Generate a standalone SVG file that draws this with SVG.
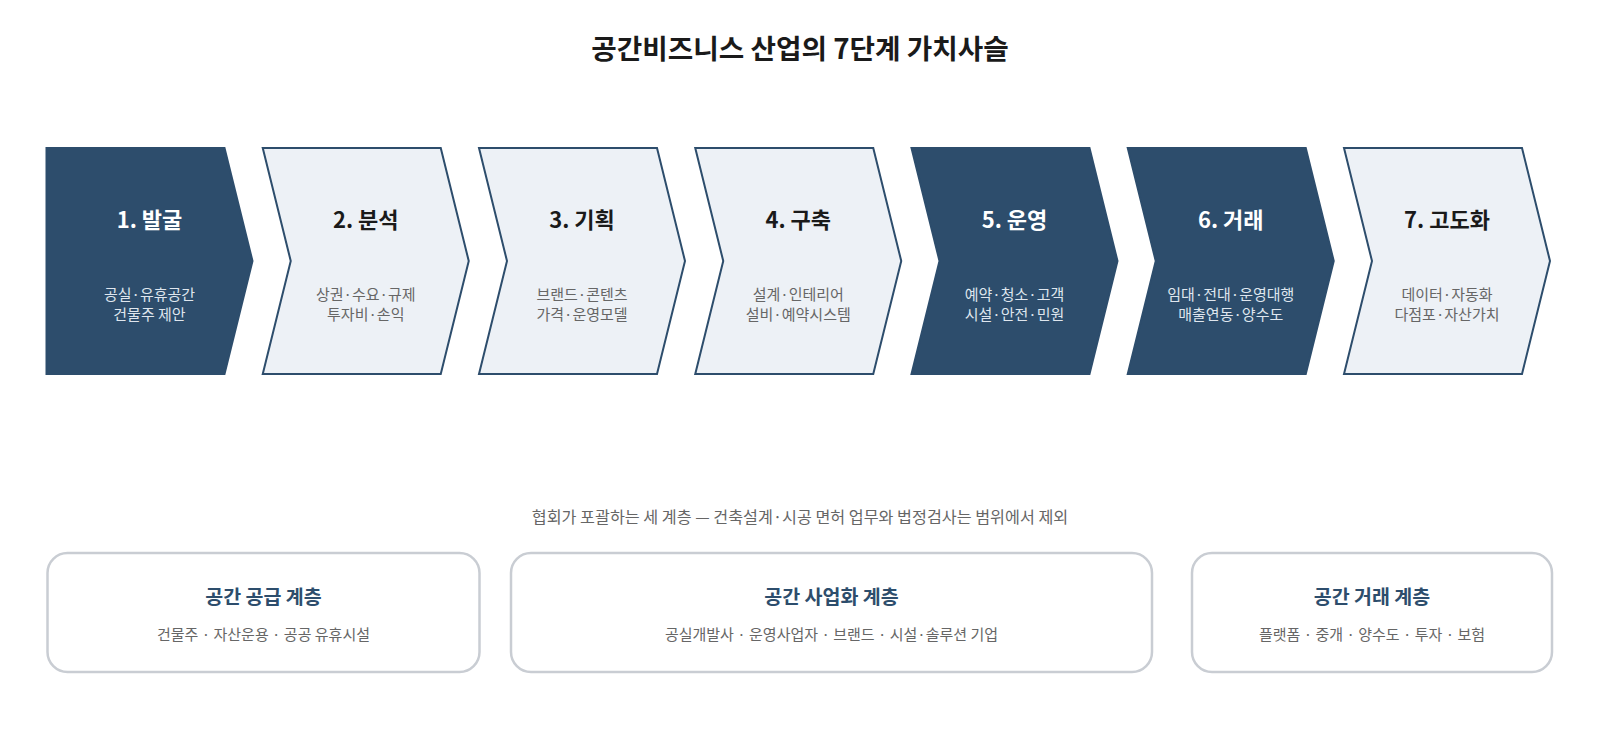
<svg xmlns="http://www.w3.org/2000/svg" width="1600" height="747" viewBox="0 0 1600 747">
  <style>
    text { font-family: "Noto Sans CJK KR", "Noto Sans", sans-serif; text-anchor: middle; }
    .title { font-size: 27.7px; font-weight: 700; fill: #1a1a1a; }
    .dark { fill: #2d4d6c; stroke: #2d4d6c; stroke-width: 2; stroke-linejoin: miter; }
    .light { fill: #edf1f6; stroke: #2d4d6c; stroke-width: 2; stroke-linejoin: miter; }
    .h-dark { font-size: 22px; font-weight: 700; fill: #ffffff; }
    .h-light { font-size: 22px; font-weight: 700; fill: #1a1a1a; }
    .s-dark { font-size: 15px; fill: #dfe6ee; }
    .s-light { font-size: 15px; fill: #666666; }
    .note { font-size: 16.2px; fill: #666666; }
    .box { fill: #ffffff; stroke: #c9cdd3; stroke-width: 2.5; }
    .bt { font-size: 19.5px; font-weight: 700; fill: #2d4d6c; }
    .bs { font-size: 15px; fill: #666666; }
  </style>
  <rect width="1600" height="747" fill="#ffffff"/>
  <text class="title" x="800" y="59">공간비즈니스 산업의 7단계 가치사슬</text>

  <g id="step1">
    <path class="dark" d="M46.5,148 H224.5 L252.5,261 L224.5,374 H46.5 Z"/>
    <text class="h-dark" x="149.5" y="228">1. 발굴</text>
    <text class="s-dark" x="149.5" y="300">공실·유휴공간</text>
    <text class="s-dark" x="149.5" y="320">건물주 제안</text>
  </g>
  <g id="step2">
    <path class="light" d="M262.75,148 H440.75 L468.75,261 L440.75,374 H262.75 L290.75,261 Z"/>
    <text class="h-light" x="365.75" y="228">2. 분석</text>
    <text class="s-light" x="365.75" y="300">상권·수요·규제</text>
    <text class="s-light" x="365.75" y="320">투자비·손익</text>
  </g>
  <g id="step3">
    <path class="light" d="M479,148 H657 L685,261 L657,374 H479 L507,261 Z"/>
    <text class="h-light" x="582" y="228">3. 기획</text>
    <text class="s-light" x="582" y="300">브랜드·콘텐츠</text>
    <text class="s-light" x="582" y="320">가격·운영모델</text>
  </g>
  <g id="step4">
    <path class="light" d="M695.25,148 H873.25 L901.25,261 L873.25,374 H695.25 L723.25,261 Z"/>
    <text class="h-light" x="798.25" y="228">4. 구축</text>
    <text class="s-light" x="798.25" y="300">설계·인테리어</text>
    <text class="s-light" x="798.25" y="320">설비·예약시스템</text>
  </g>
  <g id="step5">
    <path class="dark" d="M911.5,148 H1089.5 L1117.5,261 L1089.5,374 H911.5 L939.5,261 Z"/>
    <text class="h-dark" x="1014.5" y="228">5. 운영</text>
    <text class="s-dark" x="1014.5" y="300">예약·청소·고객</text>
    <text class="s-dark" x="1014.5" y="320">시설·안전·민원</text>
  </g>
  <g id="step6">
    <path class="dark" d="M1127.75,148 H1305.75 L1333.75,261 L1305.75,374 H1127.75 L1155.75,261 Z"/>
    <text class="h-dark" x="1230.75" y="228">6. 거래</text>
    <text class="s-dark" x="1230.75" y="300">임대·전대·운영대행</text>
    <text class="s-dark" x="1230.75" y="320">매출연동·양수도</text>
  </g>
  <g id="step7">
    <path class="light" d="M1344,148 H1522 L1550,261 L1522,374 H1344 L1372,261 Z"/>
    <text class="h-light" x="1447" y="228">7. 고도화</text>
    <text class="s-light" x="1447" y="300">데이터·자동화</text>
    <text class="s-light" x="1447" y="320">다점포·자산가치</text>
  </g>

  <g id="connectors"></g>

  <text class="note" x="800" y="523">협회가 포괄하는 세 계층 — 건축설계·시공 면허 업무와 법정검사는 범위에서 제외</text>

  <g id="layer-supply">
    <rect class="box" x="47.5" y="553" width="432" height="119" rx="20"/>
    <text class="bt" x="263.5" y="604">공간 공급 계층</text>
    <text class="bs" x="263.5" y="640">건물주 · 자산운용 · 공공 유휴시설</text>
  </g>
  <g id="layer-business">
    <rect class="box" x="511" y="553" width="641" height="119" rx="20"/>
    <text class="bt" x="831.5" y="604">공간 사업화 계층</text>
    <text class="bs" x="831.5" y="640">공실개발사 · 운영사업자 · 브랜드 · 시설·솔루션 기업</text>
  </g>
  <g id="layer-trade">
    <rect class="box" x="1192" y="553" width="360" height="119" rx="20"/>
    <text class="bt" x="1372" y="604">공간 거래 계층</text>
    <text class="bs" x="1372" y="640">플랫폼 · 중개 · 양수도 · 투자 · 보험</text>
  </g>
</svg>
